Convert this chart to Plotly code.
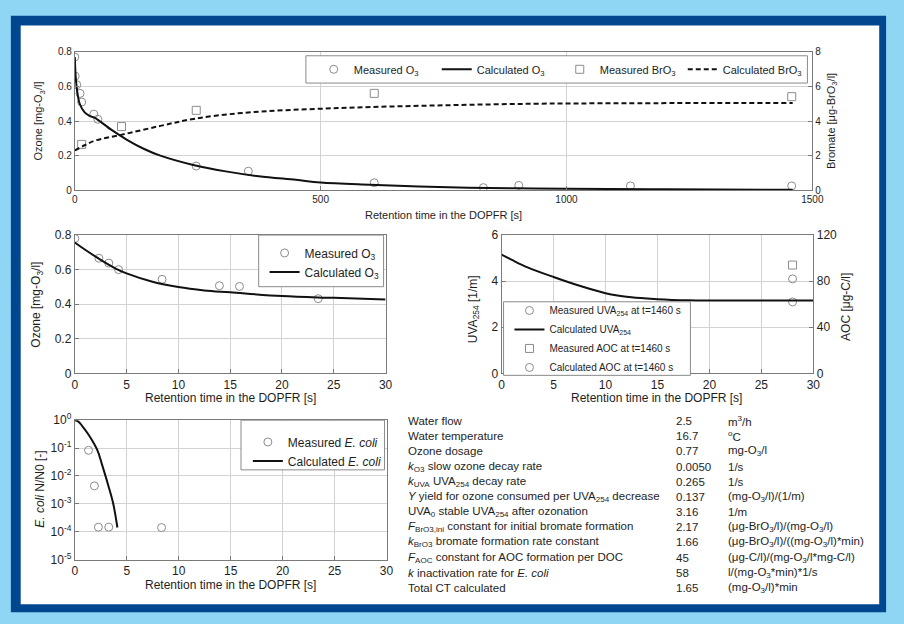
import plotly.graph_objects as go

W, H = 904, 624

# ---------------- data ----------------
# Long retention-time profile in the DOPFR (0-1500 s)
lr_o3_meas_t = [0, 0.7, 4, 10.7, 14, 38.7, 47, 247, 353, 609, 831, 903, 1130, 1458]
lr_o3_meas = [0.77, 0.66, 0.61, 0.56, 0.51, 0.44, 0.41, 0.14, 0.11, 0.043, 0.015, 0.028, 0.025, 0.025]
lr_o3_calc_t = [0, 2, 5, 10, 20, 30, 40, 74, 107, 140, 174, 241, 307, 374, 450, 500,
                600, 700, 800, 900, 1000, 1200, 1460]
lr_o3_calc = [0.77, 0.65, 0.57, 0.50, 0.45, 0.43, 0.42, 0.35, 0.29, 0.24, 0.20, 0.146, 0.109,
              0.081, 0.06, 0.045, 0.032, 0.022, 0.015, 0.011, 0.008, 0.005, 0.003]
lr_bro3_meas_t = [14, 95, 247, 609, 1458]
lr_bro3_meas = [2.65, 3.68, 4.62, 5.6, 5.41]
lr_bro3_calc_t = [0, 20, 41, 94, 174, 241, 341, 534, 734, 934, 1120, 1460]
lr_bro3_calc = [2.3, 2.6, 2.87, 3.2, 3.72, 4.12, 4.47, 4.75, 4.9, 5.0, 5.03, 5.05]

# First 30 s: ozone
sr_o3_meas_t = [0, 2.33, 3.28, 4.23, 8.43, 13.96, 15.9, 23.5]
sr_o3_meas = [0.78, 0.666, 0.638, 0.60, 0.544, 0.507, 0.503, 0.432]
sr_o3_calc_t = [0, 1, 2.5, 4, 5, 7.5, 10, 12.5, 15, 20, 25, 30]
sr_o3_calc = [0.757, 0.715, 0.657, 0.605, 0.578, 0.53, 0.499, 0.48, 0.469, 0.447, 0.437, 0.428]

# First 30 s: UVA254 and AOC
uva_calc_t = [0, 1, 2.5, 5, 7.5, 10, 12.5, 15, 18, 20, 25, 30]
uva_calc = [5.15, 4.92, 4.6, 4.18, 3.8, 3.48, 3.3, 3.22, 3.17, 3.16, 3.16, 3.16]
end_t = [28]
uva_meas_end = [3.1]
aoc_meas_end = [94]
aoc_calc_end = [82]

# First 30 s: E. coli inactivation
ec_meas_t = [1.32, 1.89, 2.27, 3.27, 8.35]
ec_meas = [0.083, 0.0044, 1.45e-4, 1.45e-4, 1.4e-4]
ec_calc_t = [0, 0.35, 0.7, 1.2, 1.66, 2.2, 2.6, 3.25, 3.7, 4.1]
ec_calc = [1.0, 0.89, 0.63, 0.355, 0.19, 0.079, 0.027, 0.0042, 0.001, 1.41e-4]
ec_tickvals = [1, 1e-1, 1e-2, 1e-3, 1e-4, 1e-5]
ec_ticktext = ["10<sup>0</sup>", "10<sup>-1</sup>", "10<sup>-2</sup>",
               "10<sup>-3</sup>", "10<sup>-4</sup>", "10<sup>-5</sup>"]

# Model parameters
param_labels = [
    "Water flow",
    "Water temperature",
    "Ozone dosage",
    "<i>k</i><sub>O3</sub> slow ozone decay rate",
    "<i>k</i><sub>UVA</sub> UVA<sub>254</sub> decay rate",
    "<i>Y</i> yield for ozone consumed per UVA<sub>254</sub> decrease",
    "UVA<sub>0</sub> stable UVA<sub>254</sub> after ozonation",
    "<i>F</i><sub>BrO3,ini</sub> constant for initial bromate formation",
    "<i>k</i><sub>BrO3</sub> bromate formation rate constant",
    "<i>F</i><sub>AOC</sub> constant for AOC formation per DOC",
    "<i>k</i> inactivation rate for <i>E. coli</i>",
    "Total CT calculated",
]
param_values = ["2.5", "16.7", "0.77", "0.0050", "0.265", "0.137", "3.16", "2.17",
                "1.66", "45", "58", "1.65"]
param_units = [
    "m<sup>3</sup>/h",
    "<sup>o</sup>C",
    "mg-O<sub>3</sub>/l",
    "1/s",
    "1/s",
    "(mg-O<sub>3</sub>/l)/(1/m)",
    "1/m",
    "(μg-BrO<sub>3</sub>/l)/(mg-O<sub>3</sub>/l)",
    "(μg-BrO<sub>3</sub>/l)/((mg-O<sub>3</sub>/l)*min)",
    "(μg-C/l)/(mg-O<sub>3</sub>/l*mg-C/l)",
    "l/(mg-O<sub>3</sub>*min)*1/s",
    "(mg-O<sub>3</sub>/l)*min",
]

# ---------------- styling helpers ----------------
FONT = "Arial, 'Liberation Sans', Helvetica, sans-serif"
TXT = "#1e1e1e"
MARK = "#8c8c8c"
FRAME = "#7a7a7a"
GRID = "#d2d2d2"


def xp(px):
    return px / W


def yp(py):
    return 1 - py / H


def axis(domain, rng, tickvals=None, size=10, grid=True, **kw):
    d = dict(domain=domain, range=rng, showline=True, linecolor=FRAME, linewidth=1,
             mirror=True, ticks="inside", ticklen=4, tickcolor=FRAME,
             showgrid=grid, gridcolor=GRID, gridwidth=1, zeroline=False,
             tickfont=dict(family=FONT, size=size, color=TXT), fixedrange=True)
    if tickvals is not None:
        d["tickmode"] = "array"
        d["tickvals"] = tickvals
    d.update(kw)
    return d


fig = go.Figure()

calc_line = dict(color="#111111", width=2)
circ = dict(symbol="circle-open", size=8, color=MARK, line=dict(width=1, color=MARK))
sq = dict(symbol="square-open", size=8, color=MARK, line=dict(width=1, color=MARK))

# ---- top panel: 0-1500 s ----
fig.add_trace(go.Scatter(x=lr_o3_meas_t, y=lr_o3_meas, mode="markers", marker=circ,
                         name="Measured O<sub>3</sub>", xaxis="x", yaxis="y", legend="legend"))
fig.add_trace(go.Scatter(x=lr_o3_calc_t, y=lr_o3_calc, mode="lines", line=calc_line,
                         line_shape="spline",
                         name="Calculated O<sub>3</sub>", xaxis="x", yaxis="y", legend="legend"))
fig.add_trace(go.Scatter(x=lr_bro3_meas_t, y=lr_bro3_meas, mode="markers", marker=sq,
                         name="Measured BrO<sub>3</sub>", xaxis="x", yaxis="y2", legend="legend"))
fig.add_trace(go.Scatter(x=lr_bro3_calc_t, y=lr_bro3_calc, mode="lines", line_shape="spline",
                         line=dict(color="#111111", width=2, dash="5px,3px"),
                         name="Calculated BrO<sub>3</sub>", xaxis="x", yaxis="y2", legend="legend"))

# ---- middle left: ozone, first 30 s ----
fig.add_trace(go.Scatter(x=sr_o3_meas_t, y=sr_o3_meas, mode="markers", marker=circ,
                         name="Measured O<sub>3</sub>", xaxis="x2", yaxis="y3", legend="legend2"))
fig.add_trace(go.Scatter(x=sr_o3_calc_t, y=sr_o3_calc, mode="lines", line=calc_line,
                         line_shape="spline",
                         name="Calculated O<sub>3</sub>", xaxis="x2", yaxis="y3", legend="legend2"))

# ---- middle right: UVA254 and AOC ----
fig.add_trace(go.Scatter(x=end_t, y=uva_meas_end, mode="markers", marker=circ,
                         name="Measured UVA<sub>254</sub> at t=1460 s",
                         xaxis="x3", yaxis="y4", legend="legend3"))
fig.add_trace(go.Scatter(x=uva_calc_t, y=uva_calc, mode="lines", line=calc_line,
                         line_shape="spline",
                         name="Calculated UVA<sub>254</sub>", xaxis="x3", yaxis="y4", legend="legend3"))
fig.add_trace(go.Scatter(x=end_t, y=aoc_meas_end, mode="markers", marker=sq,
                         name="Measured AOC at t=1460 s", xaxis="x3", yaxis="y5", legend="legend3"))
fig.add_trace(go.Scatter(x=end_t, y=aoc_calc_end, mode="markers", marker=circ,
                         name="Calculated AOC at t=1460 s", xaxis="x3", yaxis="y5", legend="legend3"))

# ---- bottom left: E. coli ----
fig.add_trace(go.Scatter(x=ec_meas_t, y=ec_meas, mode="markers", marker=circ,
                         name="Measured <i>E. coli</i>", xaxis="x4", yaxis="y6", legend="legend4"))
fig.add_trace(go.Scatter(x=ec_calc_t, y=ec_calc, mode="lines", line=calc_line,
                         line_shape="spline",
                         name="Calculated <i>E. coli</i>", xaxis="x4", yaxis="y6", legend="legend4"))

# ---------------- layout ----------------
top_x = [xp(73), xp(823)]
top_y = [yp(186), yp(44)]
mid_y = [yp(374), yp(232)]
ml_x = [xp(73), xp(389)]
mr_x = [xp(507), xp(824)]
bl_x = [xp(73), xp(390)]
bl_y = [yp(565), yp(422)]

t30 = [0, 5, 10, 15, 20, 25, 30]

layout = dict(
    width=W, height=H, margin=dict(l=0, r=0, t=0, b=0),
    paper_bgcolor="#8fd6f4", plot_bgcolor="white",
    font=dict(family=FONT, color=TXT),
    xaxis=axis(top_x, [0, 1500], [0, 500, 1000, 1500], anchor="y"),
    yaxis=axis(top_y, [0, 0.8], [0, 0.2, 0.4, 0.6, 0.8], anchor="x"),
    yaxis2=axis(top_y, [0, 8], [0, 2, 4, 6, 8], grid=False, overlaying="y", side="right",
                anchor="x", mirror=False),
    xaxis2=axis(ml_x, [0, 30], t30, size=12, anchor="y3"),
    yaxis3=axis(mid_y, [0, 0.8], [0, 0.2, 0.4, 0.6, 0.8], size=12, anchor="x2"),
    xaxis3=axis(mr_x, [0, 30], t30, size=12, anchor="y4"),
    yaxis4=axis(mid_y, [0, 6], [0, 2, 4, 6], size=12, anchor="x3"),
    yaxis5=axis(mid_y, [0, 120], [0, 40, 80, 120], size=12, grid=False, overlaying="y4",
                side="right", anchor="x3", mirror=False),
    xaxis4=axis(bl_x, [0, 30], t30, size=12, anchor="y6"),
    yaxis6=axis(bl_y, [-5, 0], ec_tickvals, size=12, anchor="x4", type="log",
                ticktext=ec_ticktext),
    showlegend=True,
)

leg_common = dict(bgcolor="rgba(0,0,0,0)", borderwidth=0, xanchor="left", yanchor="top",
                  itemclick=False, itemdoubleclick=False, tracegroupgap=0)
layout["legend"] = dict(leg_common, orientation="h", x=xp(316), y=yp(47), entrywidth=78,
                        font=dict(family=FONT, size=11, color=TXT))
layout["legend2"] = dict(leg_common, orientation="v", x=xp(266), y=yp(235.5),
                         font=dict(family=FONT, size=12, color=TXT))
layout["legend3"] = dict(leg_common, orientation="v", x=xp(515), y=yp(294.5),
                         font=dict(family=FONT, size=10, color=TXT))
layout["legend4"] = dict(leg_common, orientation="v", x=xp(249), y=yp(429.5),
                         font=dict(family=FONT, size=12, color=TXT))


def rect(x0, y0, x1, y1, fill, line=None, layer="below"):
    return dict(type="rect", xref="paper", yref="paper", x0=xp(x0), x1=xp(x1),
                y0=yp(y1), y1=yp(y0), fillcolor=fill, layer=layer,
                line=dict(width=0) if line is None else dict(width=1, color=line))


LEG_EDGE = "#8a8a8a"
layout["shapes"] = [
    rect(8, 7, 898, 619, "#00478f"),
    rect(18, 17, 891, 611, "white"),
    rect(308, 48, 818, 76, "white", LEG_EDGE, "above"),
    rect(260, 232, 387, 285, "white", LEG_EDGE, "above"),
    rect(509, 300.5, 699, 376, "white", LEG_EDGE, "above"),
    rect(242, 422, 388, 473, "white", LEG_EDGE, "above"),
]


def label(text, x, y, size, angle=0, anchor="center"):
    return dict(text=text, x=xp(x), y=yp(y), xref="paper", yref="paper", showarrow=False,
                textangle=angle, xanchor=anchor, yanchor="middle",
                font=dict(family=FONT, size=size, color=TXT))


ann = [
    # axis titles
    label("Ozone [mg-O<sub>3</sub>/l]", 37, 115, 11, -90),
    label("Bromate [μg-BrO<sub>3</sub>/l]", 843, 115, 11, -90),
    label("Retention time in the DOPFR [s]", 448, 211, 11),
    label("Ozone [mg-O<sub>3</sub>/l]", 35, 303, 12, -90),
    label("Retention time in the DOPFR [s]", 231, 399, 12),
    label("UVA<sub>254</sub> [1/m]", 479, 308, 12, -90),
    label("AOC [μg-C/l]", 857, 306, 12, -90),
    label("Retention time in the DOPFR [s]", 665, 399, 12),
    label("<i>E. coli</i> N/N0 [-]", 38, 493, 12, -90),
    label("Retention time in the DOPFR [s]", 231, 591, 12),
]

# parameter table
row0, row_step = 423, 15.55
for i, (lab, val, unit) in enumerate(zip(param_labels, param_values, param_units)):
    yy = row0 + i * row_step
    ann.append(label(lab, 410, yy, 11.5, anchor="left"))
    ann.append(label(val, 682, yy, 11.5, anchor="left"))
    ann.append(label(unit, 735, yy, 11.5, anchor="left"))

layout["annotations"] = ann
fig.update_layout(**layout)

fig.write_html("out.html")
